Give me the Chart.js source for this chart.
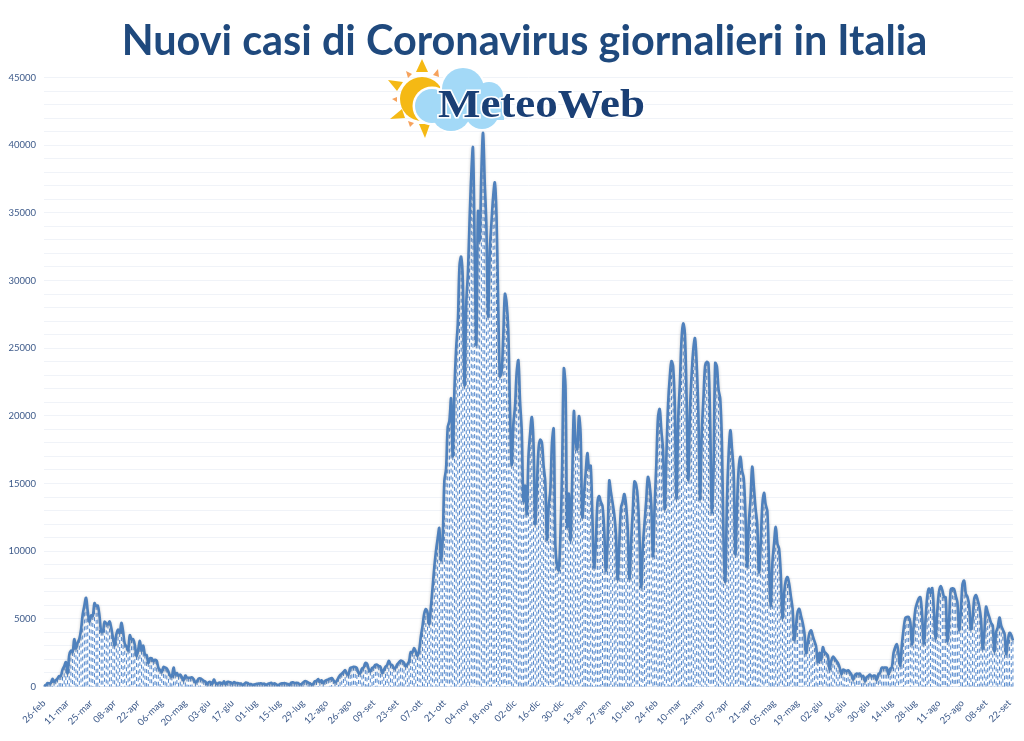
<!DOCTYPE html>
<html lang="it">
<head>
<meta charset="utf-8">
<title>Nuovi casi di Coronavirus giornalieri in Italia</title>
<script src="https://cdn.jsdelivr.net/npm/chart.js@4"></script>
<style>
  body { margin: 0; background: #fff; }
  #box { position: relative; width: 1024px; height: 741px; overflow: hidden; }
  #titolo {
    position: absolute; left: 0; top: 14px; width: 1049px; margin: 0; text-align: center;
    font: bold 41.4px Lato, sans-serif; color: #1f497d; white-space: nowrap;
  }
  #logo { position: absolute; left: 0; top: 0; }
</style>
</head>
<body>
<div id="box">
  <canvas id="casiChart" width="1024" height="741"></canvas>
  <h1 id="titolo">Nuovi casi di Coronavirus giornalieri in Italia</h1>
  <svg id="logo" width="1024" height="150">
    <circle cx="422" cy="99" r="22" fill="#f5b914"/>
    <g fill="#f5b914">
      <polygon points="422,59 416,72 428,72"/>
      <polygon points="388,80 403,82 397,91"/>
      <polygon points="390,119 402,109 405,118"/>
      <polygon points="419,124 430,124 425,138"/>
    </g>
    <g fill="#f6a25c">
      <polygon points="406,71 412,74 408,78"/>
      <polygon points="438,69 433,75 439,77"/>
      <polygon points="392,99 397,97 397,102"/>
      <polygon points="408,121 414,123 410,127"/>
    </g>
    <g fill="#fff">
      <circle cx="432" cy="106" r="19.5"/>
      <circle cx="451" cy="111" r="22"/>
      <circle cx="463" cy="89" r="23"/>
    </g>
    <g fill="#a3d9f7">
      <circle cx="432" cy="106" r="17"/>
      <circle cx="451" cy="111" r="20"/>
      <circle cx="463" cy="89" r="21"/>
      <circle cx="489" cy="96" r="14"/>
      <circle cx="482" cy="112" r="17"/>
      <rect x="480" y="100" width="24" height="20"/>
    </g>
    <text x="438" y="117" font-family="'Liberation Serif', serif" font-weight="bold" font-size="40"
      fill="#1a3f75" stroke="#fff" stroke-width="3" paint-order="stroke"
      textLength="207" lengthAdjust="spacingAndGlyphs">MeteoWeb</text>
  </svg>
</div>
<script>
const etichetteDate = [
  '26-feb', '11-mar', '25-mar', '08-apr', '22-apr', '06-mag', '20-mag', '03-giu', '17-giu', '01-lug',
  '15-lug', '29-lug', '12-ago', '26-ago', '09-set', '23-set', '07-ott', '21-ott', '04-nov', '18-nov',
  '02-dic', '16-dic', '30-dic', '13-gen', '27-gen', '10-feb', '24-feb', '10-mar', '24-mar', '07-apr',
  '21-apr', '05-mag', '19-mag', '02-giu', '16-giu', '30-giu', '14-lug', '28-lug', '11-ago', '25-ago',
  '08-set', '22-set'
];

// casi giornalieri, un array per mese
const feb20 = [93, 78, 250, 238];
const mar20 = [240, 561, 347, 466, 587, 769, 778, 1247, 1492, 1797, 977, 2313, 2651, 2547, 3497, 2823, 3233, 3526, 4207, 5322, 5986, 6557, 5560, 4789, 5249, 5210, 6153, 5959, 5974, 5217, 4050];
const apr20 = [4053, 4782, 4668, 4585, 4805, 4316, 3599, 3039, 3836, 4204, 3951, 4694, 4092, 3153, 2972, 2667, 3786, 3493, 3491, 3047, 2256, 2729, 3370, 2646, 3021, 2357, 2324, 1739, 2091, 2086];
const mag20 = [1872, 1965, 1900, 1389, 1221, 1075, 1444, 1401, 1327, 1083, 802, 744, 1402, 888, 992, 789, 875, 675, 451, 813, 665, 642, 652, 669, 531, 300, 397, 584, 593, 516, 416];
const giu20 = [355, 178, 318, 321, 177, 518, 270, 197, 280, 283, 202, 379, 163, 346, 338, 301, 210, 328, 251, 262, 224, 218, 122, 190, 296, 259, 175, 174, 126, 142];
const lug20 = [187, 201, 223, 235, 192, 208, 138, 193, 229, 276, 188, 234, 169, 114, 162, 230, 233, 249, 219, 190, 129, 282, 306, 252, 275, 255, 170, 181, 289, 386, 379];
const ago20 = [295, 239, 159, 190, 384, 402, 552, 347, 463, 259, 412, 481, 523, 574, 629, 479, 320, 403, 642, 845, 947, 1071, 1210, 953, 878, 1367, 1411, 1462, 1444, 1365, 996];
const set20 = [978, 1326, 1397, 1733, 1695, 1297, 1108, 1370, 1434, 1597, 1616, 1501, 1458, 1008, 1229, 1452, 1585, 1907, 1638, 1587, 1350, 1392, 1640, 1786, 1912, 1869, 1766, 1494, 1648, 1851];
const ott20 = [2548, 2499, 2844, 2578, 2257, 2677, 3678, 4458, 5372, 5724, 5456, 4619, 5901, 7332, 8804, 10010, 10925, 11705, 9338, 10874, 15199, 16079, 19143, 19644, 21273, 17012, 21994, 24991, 26831, 31084, 31758];
const nov20 = [29907, 22253, 28244, 30550, 34505, 37809, 39811, 32616, 25271, 35098, 32961, 37978, 40902, 37255, 33979, 27352, 32191, 34283, 36176, 37242, 34767, 28337, 22927, 23232, 25853, 29003, 28352, 26323, 20648, 16377];
const dic20 = [19350, 20709, 23225, 24099, 21052, 18887, 13720, 14842, 12756, 16999, 18727, 19903, 17938, 12030, 14844, 17572, 18236, 17992, 16308, 15104, 10872, 13318, 14522, 18040, 19037, 10407, 8913, 8585, 11212, 16202, 23477];
const gen21 = [22211, 11831, 14245, 10800, 15378, 20331, 18020, 17533, 19978, 18627, 12532, 14242, 15774, 17246, 16146, 16310, 12545, 8824, 10497, 13571, 14078, 13633, 13331, 11629, 8562, 10593, 15204, 14372, 13574, 12715, 11252];
const feb21 = [7925, 10630, 13189, 13659, 14218, 13442, 11641, 7970, 10630, 12956, 15146, 14931, 13908, 11068, 7351, 10386, 12074, 13762, 15479, 14931, 13452, 9630, 13314, 16424, 19886, 20499, 18916, 17455];
const mar21 = [13114, 17083, 20884, 22865, 24036, 23641, 20765, 13902, 19749, 22409, 25673, 26824, 26062, 21315, 15267, 20396, 23059, 24935, 25735, 23832, 20159, 13846, 18765, 21267, 23696, 23987, 23839, 19611, 12916, 16017, 23904];
const apr21 = [23649, 21932, 21261, 18025, 10680, 7767, 13708, 17221, 18938, 17567, 15746, 9789, 13447, 16168, 16974, 15943, 15370, 12694, 8864, 12074, 13844, 16232, 14761, 13158, 12000, 8444, 10404, 13385, 14320, 13446];
const mag21 = [12965, 9148, 5948, 9116, 10585, 11807, 10554, 10176, 8292, 5080, 6946, 7852, 8085, 7567, 6659, 5753, 3455, 4452, 5506, 5741, 5218, 4717, 3995, 2490, 3224, 3937, 4147, 3738, 3351, 2949, 1820];
const giu21 = [2483, 1968, 2897, 2557, 2436, 2275, 1273, 1896, 2199, 2079, 1901, 1723, 1390, 907, 1255, 1199, 1142, 1197, 1064, 881, 495, 835, 951, 927, 952, 753, 786, 389, 679, 776];
const lug21 = [882, 753, 794, 808, 480, 907, 1010, 1394, 1390, 1400, 1391, 888, 1300, 1400, 2455, 2898, 3121, 2456, 1552, 3127, 4259, 5057, 5143, 5140, 4743, 3117, 4522, 5696, 6171, 6513, 6599];
const ago21 = [5321, 3190, 4845, 6596, 7230, 6902, 7270, 5664, 3532, 5500, 6968, 7409, 7126, 6619, 6603, 3361, 4800, 7162, 7260, 7200, 6700, 6200, 4168, 5500, 7548, 7826, 6860, 6600, 5959, 4257, 5000];
const set21 = [6503, 6761, 6400, 5900, 5000, 2800, 4000, 5900, 5500, 5100, 4700, 4500, 2600, 4000, 4400, 5100, 4500, 4200, 3900, 2400, 3400, 3970, 3800, 3400];

const nuoviCasi = [].concat(feb20, mar20, apr20, mag20, giu20, lug20, ago20, set20, ott20, nov20, dic20,
  gen21, feb21, mar21, apr21, mag21, giu21, lug21, ago21, set21);

// una etichetta ogni 14 giorni
const giorni = nuoviCasi.map((v, i) => (i % 14 === 0 ? etichetteDate[i / 14] : ''));

// linee verticali tratteggiate dal punto fino all'asse
const lineeVerticali = {
  id: 'lineeVerticali',
  beforeDatasetsDraw(chart) {
    const c = chart.ctx;
    const base = chart.scales.y.getPixelForValue(0);
    c.save();
    c.strokeStyle = '#5488cc';
    c.lineWidth = 1;
    c.setLineDash([4, 3]);
    c.beginPath();
    chart.getDatasetMeta(0).data.forEach(p => {
      c.moveTo(p.x, p.y);
      c.lineTo(p.x, base);
    });
    c.stroke();
    c.restore();
  },
  beforeDatasetDraw(chart) {
    chart.ctx.save();
    chart.ctx.shadowColor = 'rgba(60,60,60,0.3)';
    chart.ctx.shadowBlur = 3;
    chart.ctx.shadowOffsetY = 1;
  },
  afterDatasetDraw(chart) {
    chart.ctx.restore();
  }
};

const ctx = document.getElementById('casiChart');

new Chart(ctx, {
  type: 'line',
  data: {
    labels: giorni,
    datasets: [{
      label: 'Nuovi casi',
      data: nuoviCasi,
      borderColor: '#4f81bd',
      borderWidth: 2.6,
      pointRadius: 0,
      tension: 0.35,
      fill: false
    }]
  },
  plugins: [lineeVerticali],
  options: {
    responsive: false,
    animation: false,
    layout: { padding: { top: 77.5, right: 10.6, left: 0, bottom: 0 } },
    plugins: { legend: { display: false }, title: { display: false }, tooltip: { enabled: false } },
    scales: {
      x: {
        offset: false,
        grid: { display: false },
        border: { color: '#dfe6f1' },
        afterFit(s) { s.height = 54.5; },
        ticks: {
          autoSkip: false,
          maxRotation: 45,
          minRotation: 45,
          padding: 3,
          color: '#3d5a8a',
          font: { family: 'Lato, sans-serif', size: 9.5 }
        }
      },
      y: {
        min: 0,
        max: 45000,
        afterFit(s) { s.width = 44; },
        border: { display: false },
        grid: { color: '#f0f3f8', drawTicks: false },
        ticks: {
          stepSize: 1000,
          autoSkip: false,
          padding: 8,
          color: '#3d5a8a',
          font: { family: 'Lato, sans-serif', size: 9.5 },
          callback: v => (v % 5000 === 0 ? v : '')
        }
      }
    }
  }
});
</script>
</body>
</html>
